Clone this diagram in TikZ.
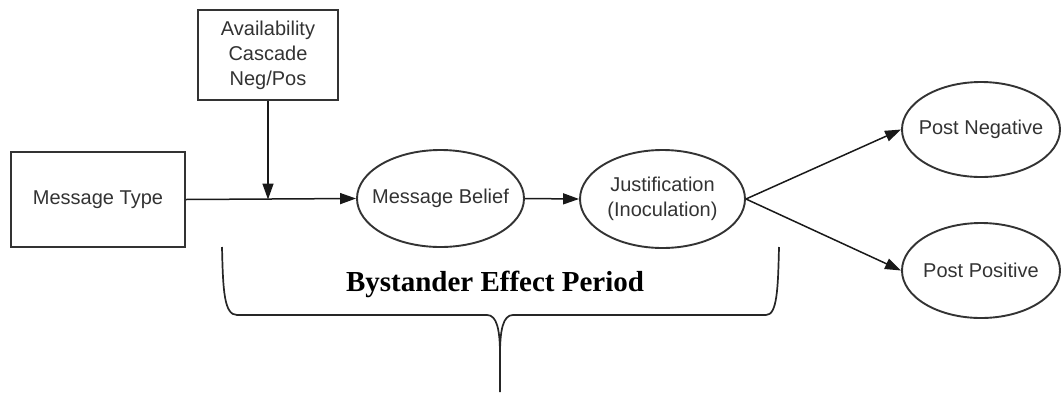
\documentclass[tikz,border=0pt]{standalone}
\usepackage{fontspec}
\setmainfont{Liberation Sans}
\newfontfamily\serifbold{Liberation Serif}
\usetikzlibrary{shapes.geometric}
\usetikzlibrary{arrows.meta}
\usetikzlibrary{calc}

\begin{document}
\begin{tikzpicture}[x=0.5pt, y=-0.5pt,
    box/.style={draw=black!80, line width=0.95pt, text=black!80, font=\fontsize{10}{12.5}\selectfont, align=center},
    oval/.style={ellipse, draw=black!80, line width=0.95pt, text=black!80, font=\fontsize{10}{12.5}\selectfont, align=center, inner xsep=-5pt, inner ysep=0pt},
    link/.style={-{Triangle[length=8pt,width=5.5pt]}, line width=0.75pt, draw=black!90}]
    \useasboundingbox (0,0) rectangle (1061,392);

    \node[box, minimum width=70pt, minimum height=45pt] (avail) at (268,55) {Availability\\Cascade\\Neg/Pos};
    \node[box, minimum width=87pt, minimum height=47.5pt] (msgtype) at (98,199.5) {Message Type};
    \node[oval, minimum width=83.5pt, minimum height=48.5pt] (belief) at (440.5,198.5) {Message Belief};
    \node[oval, minimum width=82.5pt, minimum height=49pt] (justif) at (662.5,199) {Justification\\(Inoculation)};
    \node[oval, minimum width=79pt, minimum height=47.5pt] (postneg) at (981,129.5) {Post Negative};
    \node[oval, minimum width=79pt, minimum height=47.5pt] (postpos) at (981,270.5) {Post Positive};
    \node[font=\serifbold\bfseries\fontsize{14.5}{16}\selectfont] (period) at (495,284) {Bystander Effect Period};

    \coordinate (join) at (avail.south |- msgtype.east);
    \coordinate (tip) at (500,392);

    \draw[link] (msgtype.east) -- (belief.west);
    \draw[link] (avail.south) -- (join);
    \draw[link] (belief.east) -- (justif.west);
    \draw[link] (justif.east) -- (postneg.west);
    \draw[link] (justif.east) -- (postpos.west);

    % brace under the middle part
    \draw[line width=0.85pt, black!85] (222,247) .. controls (223,290) and (224,315) .. (237,315)
        -- (487,315) .. controls (497,315) and (500,330) .. (500,355) -- (tip);
    \draw[line width=0.85pt, black!85] (779,247) .. controls (778,290) and (777,315) .. (766,315)
        -- (513,315) .. controls (503,315) and (500,330) .. (500,355);

\end{tikzpicture}
\end{document}
